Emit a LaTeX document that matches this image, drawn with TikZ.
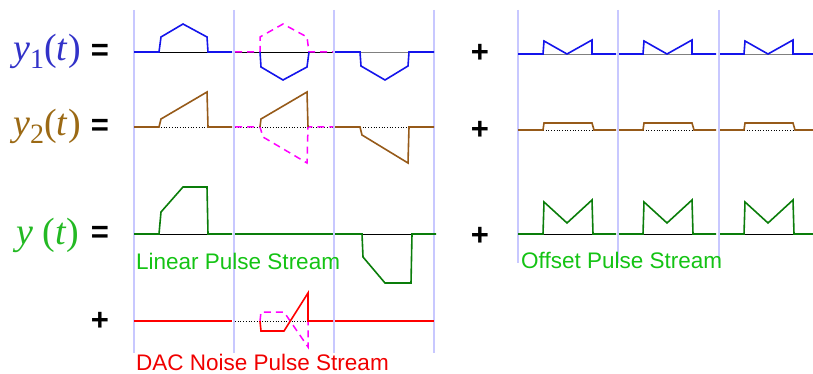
\documentclass[tikz,border=0pt]{standalone}
\usepackage{fontspec}
\setmainfont{Liberation Serif}
\newfontfamily\arialf{Liberation Sans}
\definecolor{lav}{RGB}{200,200,255}
\definecolor{wblue}{RGB}{20,20,235}
\definecolor{wbrown}{RGB}{150,90,25}
\definecolor{wgreen}{RGB}{10,125,10}
\definecolor{lblue}{RGB}{50,50,200}
\definecolor{lbrown}{RGB}{155,105,20}
\definecolor{lgreen}{RGB}{35,185,35}
\definecolor{tgreen}{RGB}{20,195,20}
\definecolor{tred}{RGB}{240,0,0}
\definecolor{wmag}{RGB}{255,0,255}
\tikzset{
  vline/.style={draw=lav,line width=1.6pt},
  base/.style={draw=black,line width=0.6pt},
  gbase/.style={draw=gray,line width=0.8pt},
  dbase/.style={draw=black,line width=0.7pt,dotted},
  wave/.style={line width=1.6pt,line join=miter},
  negwave/.style={draw=wmag,line width=1.5pt,dash pattern=on 7pt off 5pt},
  eqsign/.style={font=\arialf\bfseries\fontsize{31}{31}\selectfont,inner sep=0pt},
  lab/.style={font=\fontsize{38}{38}\selectfont,inner sep=0pt,anchor=base west},
  streamtxt/.style={font=\arialf\fontsize{22.5}{22.5}\selectfont,inner sep=0pt,anchor=west},
}
\newcommand{\subsc}[1]{\raisebox{-0.2em}{\fontsize{28}{28}\selectfont #1}}
\begin{document}
\begin{tikzpicture}[x=1pt,y=-1pt]
\useasboundingbox (0,0) rectangle (813,374);
% vertical separators
\foreach \xx in {134,234,334,434} \draw[vline] (\xx,10) -- (\xx,353);
\foreach \xx in {518,618,719} \draw[vline] (\xx,10) -- (\xx,263);
% labels
\node[lab,text=lblue] (l1) at (13,61) {\textit{y}\subsc{1}(\textit{t})};
\node[lab,text=lbrown] (l2) at (13,136) {\textit{y}\subsc{2}(\textit{t})};
\node[lab,text=lgreen] (l3) at (16,244) {\textit{y} (\textit{t})};
\node[eqsign] (e1) at (100,52) {=};
\node[eqsign] (e2) at (100,127) {=};
\node[eqsign] (e3) at (100,234) {=};
\node[eqsign] (p0) at (100,321) {+};
\node[eqsign] (p1) at (480,53) {+};
\node[eqsign] (p2) at (480,130) {+};
\node[eqsign] (p3) at (480,236) {+};
% ---------- y1 row ----------
\draw[base] (134,52) -- (232,52);
\draw[wave,wblue] (134,52) -- (159,52) -- (161,37) -- (183,24) -- (207,37) -- (208,52) -- (232,52);
\draw[base] (235,52) -- (333,52);
\draw[negwave] (235,52) -- (260,52) -- (260,37) -- (283,24) -- (307,37) -- (309,52) -- (333,52);
\draw[wave,wblue] (260,52) -- (261,67) -- (283,80) -- (307,67) -- (309,52);
\draw[gbase] (360,52) -- (409,52);
\draw[wave,wblue] (335,52) -- (360,52) -- (361,66) -- (385,80) -- (408,66) -- (409,52) -- (434,52);
% ---------- y2 row ----------
\draw[dbase] (134,127) -- (232,127);
\draw[wave,wbrown] (134,127) -- (159,127) -- (161,119) -- (207,92) -- (208,127) -- (232,127);
\draw[dbase] (235,127) -- (333,127);
\draw[negwave] (235,127) -- (260,127) -- (263,137) -- (307,163) -- (308,127) -- (333,127);
\draw[wave,wbrown] (260,127) -- (261,119) -- (307,92) -- (308,127);
\draw[dbase] (360,127) -- (409,127);
\draw[wave,wbrown] (335,127) -- (360,127) -- (362,135) -- (408,163) -- (409,127) -- (434,127);
% ---------- y row ----------
\draw[base] (134,234) -- (232,234);
\draw[wave,wgreen] (134,234) -- (159,234) -- (161,212) -- (183,187) -- (207,187) -- (208,234) -- (232,234);
\draw[wave,wgreen] (235,234) -- (333,234);
\draw[base] (362,234) -- (411,234);
\draw[wave,wgreen] (335,234) -- (362,234) -- (363,257) -- (385,283) -- (411,283) -- (412,234) -- (436,234);
\node[streamtxt,text=tgreen] (lin) at (136,261) {Linear Pulse Stream};
% ---------- DAC noise row ----------
\draw[wave,red,line width=2pt] (134,321) -- (232,321);
\draw[dbase] (235,321) -- (333,321);
\draw[negwave] (260,321) -- (261,312) -- (284,312) -- (308,347) -- (308,321);
\draw[wave,red] (260,321) -- (261,331) -- (284,331) -- (308,293) -- (308,321) -- (333,321);
\draw[wave,red,line width=2pt] (335,321) -- (434,321);
\node[streamtxt,text=tred] (dac) at (136,362) {DAC Noise Pulse Stream};
% ---------- offset streams ----------
\foreach \s/\e/\p in {518/616/543,619/716/643,720/813/744} {
  % blue
  \draw[gbase] (\p,54) -- (\p+49,54);
  \draw[wave,wblue] (\s,54) -- (\p,54) -- (\p+1,41) -- (\p+24,54) -- (\p+49,40) -- (\p+49,54) -- (\e,54);
  % brown
  \draw[dbase] (\p,130) -- (\p+50,130);
  \draw[wave,wbrown] (\s,130) -- (\p,130) -- (\p+1,123) -- (\p+49,123) -- (\p+51,130) -- (\e,130);
  % green
  \draw[base] (\p,234) -- (\p+50,234);
  \draw[wave,wgreen] (\s,234) -- (\p,234) -- (\p+1,202) -- (\p+24,223) -- (\p+49,200) -- (\p+50,234) -- (\e,234);
}
\node[streamtxt,text=tgreen] (off) at (521,260) {Offset Pulse Stream};
\end{tikzpicture}
\end{document}
